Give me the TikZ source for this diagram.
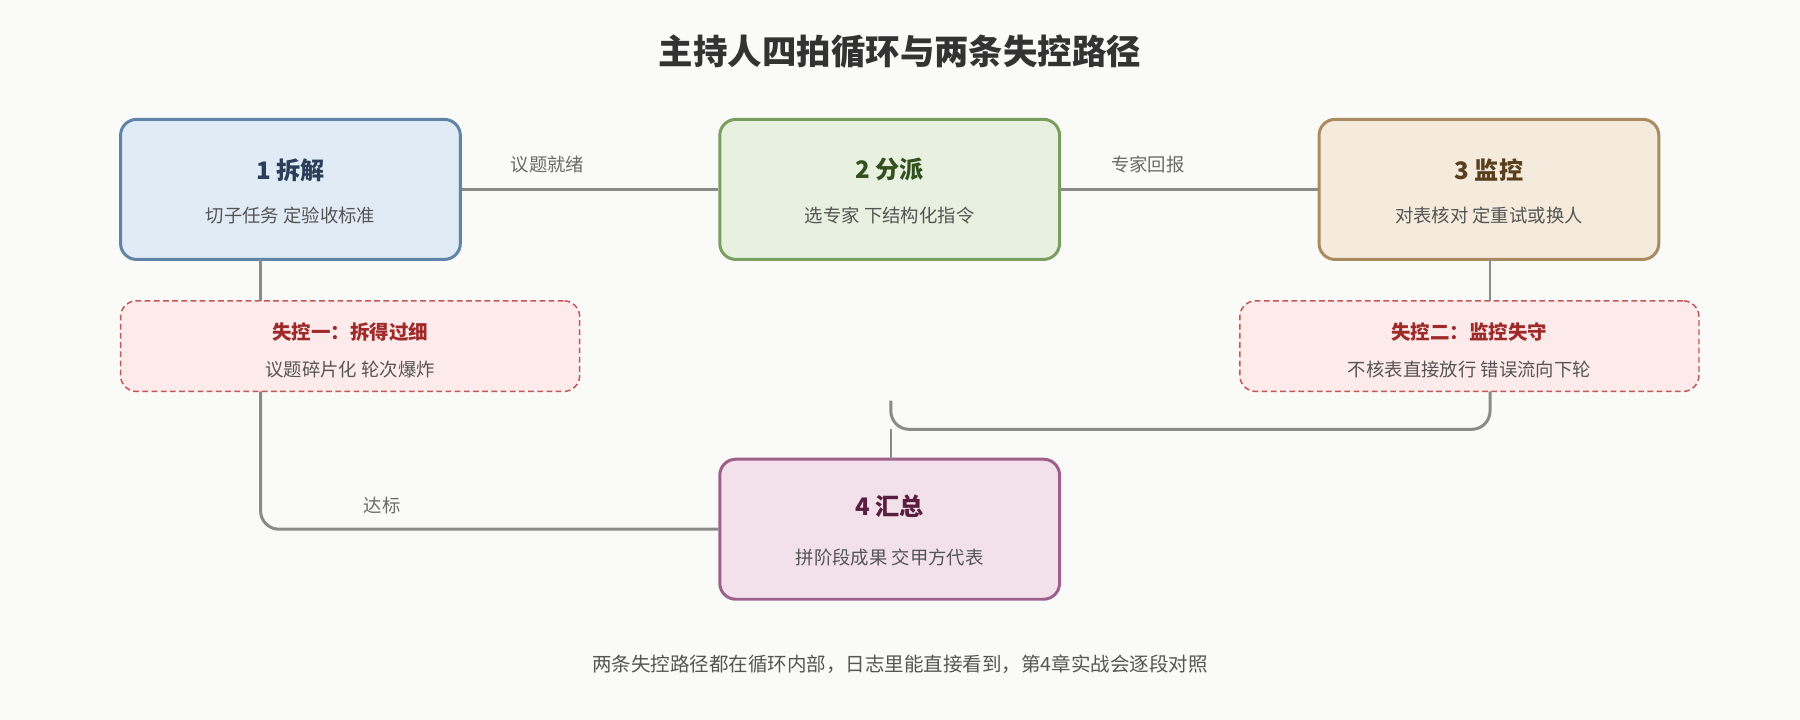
\documentclass[tikz,border=0pt]{standalone}
\usepackage{fontspec}
\setmainfont{Noto Sans CJK SC}
\begin{document}
\begin{tikzpicture}[x=1pt,y=-1pt,
  box/.style={rounded corners=14pt,line width=2.6pt,minimum width=296pt,minimum height=122pt,inner sep=0pt},
  fail/.style={rounded corners=14pt,line width=1.3pt,dashed,dash pattern=on 5pt off 3pt,draw=failc,fill=failf,minimum width=400pt,minimum height=79pt,inner sep=0pt},
  ttl/.style={font=\fontsize{21}{25}\selectfont\bfseries},
  sub/.style={font=\fontsize{16}{20}\selectfont,text=subc},
  lbl/.style={font=\fontsize{16}{20}\selectfont,text=lblc},
  link/.style={draw=linec,line width=2.6pt,rounded corners=16pt},
  thin/.style={draw=linec,line width=2pt}]
\definecolor{bg}{HTML}{FAFAF8}
\definecolor{linec}{HTML}{8A8A8A}
\definecolor{subc}{HTML}{555555}
\definecolor{lblc}{HTML}{6A6A6A}
\definecolor{failc}{HTML}{C0585A}
\definecolor{failf}{HTML}{FDEBEB}
\definecolor{failt}{HTML}{9E2A2A}
\fill[bg] (0,0) rectangle (1568,627);
\useasboundingbox (0,0) rectangle (1568,627);
\node[font=\fontsize{30}{34}\selectfont\bfseries,text=black!80] (title) at (784,45) {主持人四拍循环与两条失控路径};
\node[box,draw={rgb,255:red,95;green,132;blue,168},fill={rgb,255:red,225;green,235;blue,245}] (b1) at (253,165) {};
\node[box,draw={rgb,255:red,122;green,158;blue,94},fill={rgb,255:red,232;green,241;blue,224}] (b2) at (775,165) {};
\node[box,draw={rgb,255:red,168;green,139;blue,95},fill={rgb,255:red,245;green,235;blue,221}] (b3) at (1297,165) {};
\node[box,draw={rgb,255:red,158;green,95;blue,139},fill={rgb,255:red,242;green,225;blue,235}] (b4) at (775,461) {};
\node[ttl,text={rgb,255:red,43;green,63;blue,90}] (t1) at (253,148) {1 拆解};
\node[sub] (s1) at (253,188) {切子任务 定验收标准};
\node[ttl,text={rgb,255:red,51;green,80;blue,31}] (t2) at (775,148) {2 分派};
\node[sub] (s2) at (775,188) {选专家 下结构化指令};
\node[ttl,text={rgb,255:red,90;green,63;blue,31}] (t3) at (1297,148) {3 监控};
\node[sub] (s3) at (1297,188) {对表核对 定重试或换人};
\node[ttl,text={rgb,255:red,90;green,31;blue,64}] (t4) at (775,441) {4 汇总};
\node[sub] (s4) at (775,486) {拼阶段成果 交甲方代表};
\node[fail] (f1) at (305,301.5) {};
\node[fail] (f2) at (1280,301.5) {};
\node[font=\fontsize{17}{20}\selectfont\bfseries,text=failt] (ft1) at (305,289) {失控一：拆得过细};
\node[sub] (fs1) at (305,322) {议题碎片化 轮次爆炸};
\node[font=\fontsize{17}{20}\selectfont\bfseries,text=failt] (ft2) at (1280,289) {失控二：监控失守};
\node[sub] (fs2) at (1280,322) {不核表直接放行 错误流向下轮};
\coordinate (open) at (776,349);
\draw[link] (b1.east) -- (b2.west);
\draw[link] (b2.east) -- (b3.west);
\draw[thin] (227,226) -- (227,262);
\draw[thin] (1298,226) -- (1298,262);
\draw[link] (227,341) -- (227,461) -- (b4.west);
\draw[link] (1298,341) -- (1298,374) -- (776,374) -- (open);
\draw[thin] (776,374) -- (776,400);
\node[lbl] (l1) at (477,143) {议题就绪};
\node[lbl] (l2) at (1000,143) {专家回报};
\node[lbl] (l3) at (333,440) {达标};
\node[font=\fontsize{17}{20}\selectfont,text=subc] (foot) at (784,579) {两条失控路径都在循环内部，日志里能直接看到，第4章实战会逐段对照};
\end{tikzpicture}
\end{document}
